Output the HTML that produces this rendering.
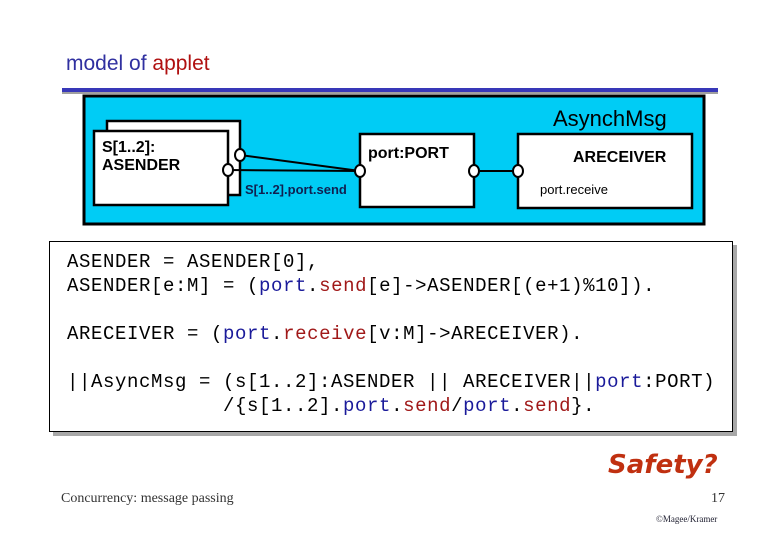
<!DOCTYPE html>
<html><head><meta charset="utf-8"><style>
body{margin:0;width:780px;height:540px;background:#fff;position:relative;overflow:hidden;font-family:"Liberation Sans",sans-serif}
.a{position:absolute;white-space:pre}
.code{font-family:"Liberation Mono",monospace;font-size:19px;letter-spacing:0.6px;color:#000}
.b{color:#1a1a9a}.r{color:#a01818}
</style></head><body>
<div class="a" style="left:66px;top:52px;font-size:21px;color:#3030a0">model of <span style="color:#b01010">applet</span></div>
<div class="a" style="left:62px;top:91px;width:656px;height:3px;background:#a0a0a0"></div>
<div class="a" style="left:62px;top:88px;width:656px;height:4px;background:#3838b8"></div>
<svg class="a" style="left:0;top:0" width="780" height="240">
<rect x="84" y="96" width="620" height="128" fill="#00ccf5" stroke="#000" stroke-width="3"/>
<rect x="107" y="121" width="133" height="74" fill="#fff" stroke="#000" stroke-width="2.5"/>
<rect x="94" y="131" width="134" height="74" fill="#fff" stroke="#000" stroke-width="2.5"/>
<rect x="360" y="134" width="114" height="73" fill="#fff" stroke="#000" stroke-width="2.5"/>
<rect x="518" y="134" width="174" height="74" fill="#fff" stroke="#000" stroke-width="2.5"/>
<line x1="240" y1="155" x2="360" y2="171" stroke="#000" stroke-width="2"/>
<line x1="228" y1="170" x2="360" y2="171" stroke="#000" stroke-width="2"/>
<line x1="474" y1="171" x2="518" y2="171" stroke="#000" stroke-width="2"/>
<g fill="#fff" stroke="#000" stroke-width="2">
<ellipse cx="240" cy="155" rx="5" ry="6"/><ellipse cx="228" cy="170" rx="5" ry="6"/>
<ellipse cx="360" cy="171" rx="5" ry="6"/><ellipse cx="474" cy="171" rx="5" ry="6"/>
<ellipse cx="518" cy="171" rx="5" ry="6"/></g>
<g font-family="Liberation Sans, sans-serif" font-weight="bold" fill="#000">
<text x="102" y="152" font-size="16">S[1..2]:</text>
<text x="102" y="170" font-size="16">ASENDER</text>
<text x="368" y="158" font-size="16">port:PORT</text>
<text x="573" y="162" font-size="16">ARECEIVER</text>
<text x="245" y="194" font-size="13" fill="#102050">S[1..2].port.send</text>
<text x="540" y="194" font-size="13" font-weight="normal">port.receive</text>
</g>
<text x="553" y="126" font-size="22" font-family="Liberation Sans, sans-serif" fill="#000">AsynchMsg</text>
</svg>
<div class="a" style="left:53px;top:245px;width:684px;height:191px;background:#a8a8a8"></div>
<div class="a" style="left:49px;top:241px;width:682px;height:189px;background:#fff;border:1px solid #000"></div>
<div class="a code" style="left:67px;top:250px;line-height:24px">ASENDER = ASENDER[0],
ASENDER[e:M] = (<span class="b">port</span>.<span class="r">send</span>[e]-&gt;ASENDER[(e+1)%10]).

ARECEIVER = (<span class="b">port</span>.<span class="r">receive</span>[v:M]-&gt;ARECEIVER).

||AsyncMsg = (s[1..2]:ASENDER || ARECEIVER||<span class="b">port</span>:PORT)
             /{s[1..2].<span class="b">port</span>.<span class="r">send</span>/<span class="b">port</span>.<span class="r">send</span>}.</div>
<div class="a" style="left:608px;top:450px;font-size:26px;font-weight:bold;font-style:italic;color:#c03010;font-family:'DejaVu Sans',sans-serif">Safety?</div>
<div class="a" style="left:61px;top:491px;font-size:14px;font-family:'Liberation Serif',serif;color:#333">Concurrency: message passing</div>
<div class="a" style="left:711px;top:491px;font-size:14px;font-family:'Liberation Serif',serif;color:#333">17</div>
<div class="a" style="left:656px;top:514px;font-size:9px;font-family:'Liberation Serif',serif;color:#223">©Magee/Kramer</div>
</body></html>
